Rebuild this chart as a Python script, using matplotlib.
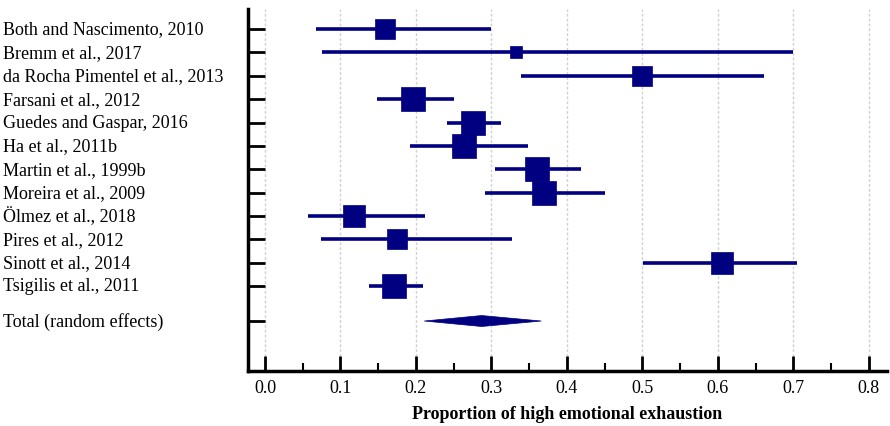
import matplotlib
matplotlib.use("Agg")
import matplotlib.pyplot as plt
import matplotlib.transforms as mtransforms
from matplotlib.patches import Polygon
from matplotlib.ticker import MultipleLocator
import numpy as np

studies = ["Both and Nascimento, 2010", "Bremm et al., 2017", "da Rocha Pimentel et al., 2013",
           "Farsani et al., 2012", "Guedes and Gaspar, 2016", "Ha et al., 2011b",
           "Martin et al., 1999b", "Moreira et al., 2009", "Ölmez et al., 2018",
           "Pires et al., 2012", "Sinott et al., 2014", "Tsigilis et al., 2011"]
estimate = [0.159, 0.333, 0.500, 0.196, 0.275, 0.264, 0.360, 0.369, 0.118, 0.175, 0.606, 0.171]
ci_low   = [0.068, 0.075, 0.339, 0.149, 0.241, 0.192, 0.305, 0.292, 0.057, 0.074, 0.501, 0.138]
ci_high  = [0.300, 0.700, 0.661, 0.250, 0.313, 0.349, 0.418, 0.451, 0.212, 0.327, 0.705, 0.209]
weights  = [7.4, 2.4, 6.1, 10.5, 10.5, 9.7, 10.5, 9.7, 8.2, 6.1, 8.2, 10.5]
total_label = "Total (random effects)"
total_est, total_low, total_high = 0.287, 0.211, 0.366
xticks = [0.0, 0.1, 0.2, 0.3, 0.4, 0.5, 0.6, 0.7, 0.8]
xlabel = "Proportion of high emotional exhaustion"

navy = "#000080"
W, H, DPI = 890, 427, 100
fig = plt.figure(figsize=(W / DPI, H / DPI), dpi=DPI)
ax = fig.add_axes([248 / W, 1 - 372 / H, (887 - 248) / W, (372 - 10) / H])
plt.rcParams['font.family'] = ['Liberation Serif', 'DejaVu Serif']
font = dict(family=['Liberation Serif', 'DejaVu Serif'], size=13)

ys = np.arange(len(studies))
total_y = len(studies) + 0.5

for x in xticks:
    ax.axvline(x, color="#d0d0d0", lw=1, ls=(0, (2, 1.5)), zorder=0)

for y, e, lo, hi, w in zip(ys, estimate, ci_low, ci_high, weights):
    ax.plot([lo, hi], [y, y], color=navy, lw=2.6, solid_capstyle="butt", zorder=2)
    side_px = 7.7 * np.sqrt(w)
    ax.plot([e], [y], marker="s", ms=side_px * 72 / DPI, color=navy, mec=navy, mew=0.5, zorder=3)

h = 0.235
diamond = Polygon([[total_low, total_y], [total_est, total_y - h], [total_high, total_y],
                   [total_est, total_y + h]], closed=True, facecolor=navy, edgecolor=navy, lw=0.5, zorder=3)
ax.add_patch(diamond)

ax.set_xlim(-0.0225, 0.824)
ax.set_ylim(14.64, -0.86)

ax.set_xticks(xticks)
ax.set_xticklabels([f"{v:.1f}" for v in xticks], **font)
ax.xaxis.set_minor_locator(MultipleLocator(0.05))
ax.tick_params(axis="x", which="major", direction="in", length=11, width=2, pad=6)
ax.tick_params(axis="x", which="minor", direction="in", length=6, width=1.5)

ax.set_yticks(list(ys) + [total_y])
ax.set_yticklabels([])
ax.tick_params(axis="y", which="major", direction="in", length=12.5, width=2)
ax.tick_params(axis="y", which="minor", left=False)

trans = mtransforms.blended_transform_factory(fig.transFigure, ax.transData)
for y, s in zip(list(ys) + [total_y], studies + [total_label]):
    ax.text(3 / W, y, s, transform=trans, ha="left", va="center", **font)

for sp in ["top", "right"]:
    ax.spines[sp].set_visible(False)
for sp in ["left", "bottom"]:
    ax.spines[sp].set_linewidth(2.5)

ax.set_xlabel(xlabel, fontweight="bold", labelpad=6, **font)

fig.savefig("out.png", dpi=DPI)
